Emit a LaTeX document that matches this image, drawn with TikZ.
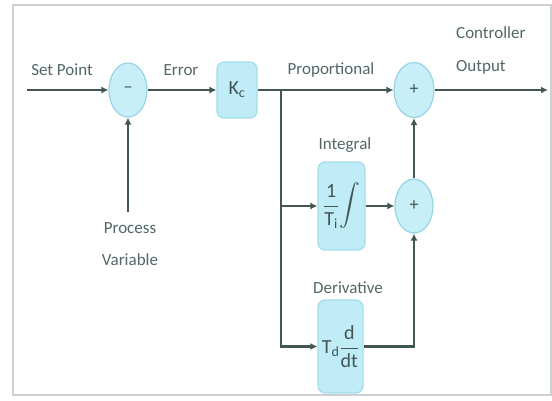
\documentclass[tikz,border=0pt]{standalone}
\usepackage{amsmath}
\usepackage{fontspec}
\setmainfont{Carlito}
\usetikzlibrary{arrows.meta,shapes.geometric}
\definecolor{ln}{RGB}{66,86,84}
\definecolor{tx}{RGB}{82,102,102}
\definecolor{cfill}{RGB}{200,239,247}
\definecolor{cedge}{RGB}{150,212,228}
\definecolor{bfill}{RGB}{192,236,247}
\definecolor{bedge}{RGB}{165,220,234}
\definecolor{frame}{RGB}{205,208,208}
\tikzset{
  sumnode/.style={ellipse, draw=cedge, fill=cfill, line width=1.2pt, minimum width=38pt, minimum height=54pt, inner sep=0pt, text=ln, font=\fontsize{18}{18}\selectfont},
  blockbox/.style={rectangle, rounded corners=7pt, draw=bedge, fill=bfill, line width=1.2pt, inner sep=0pt, text=ln, font=\fontsize{20}{24}\selectfont},
  wire/.style={draw=ln, line width=2.8pt},
  arr/.style={wire, -{Latex[length=7pt,width=7pt]}},
  lbl/.style={text=tx, font=\fontsize{17}{20}\selectfont, inner sep=0pt},
}
\begin{document}
\begin{tikzpicture}[x=1pt,y=-1pt]
\useasboundingbox (0,0) rectangle (552,400);
\draw[frame, line width=2.5pt] (13,5) rectangle (551,395);

% nodes
\coordinate (sp) at (27,90);
\node[sumnode] (minus) at (128,90) {--};
\coordinate (pv) at (128,212);
\node[blockbox, minimum width=40pt, minimum height=56pt] (kc) at (237,90) {K\textsubscript{c}};
\coordinate (br) at (281,90);
\node[sumnode, minimum width=40pt, minimum height=55pt] (plus1) at (414,90) {+};
\coordinate (out) at (548,90);
\node[blockbox, minimum width=47pt, minimum height=88pt] (integ) at (341.5,206) {$\displaystyle\frac{\text{1}}{\text{T}_{\text{i}}}\!\int$};
\node[sumnode] (plus2) at (414,206) {+};
\node[blockbox, minimum width=45pt, minimum height=93pt] (der) at (340.5,346.5) {$\displaystyle \text{T}_{\text{d}}\frac{\text{d}}{\text{dt}}$};

% connectors
\draw[arr] (sp) -- (minus);
\draw[arr] (pv) -- (minus);
\draw[arr] (minus) -- (kc);
\draw[arr] (kc) -- (plus1);
\draw[arr] (plus1) -- (out);
\draw[arr] (br) |- (der);
\draw[arr] (br |- integ) -- (integ);
\draw[arr] (integ) -- (plus2);
\draw[arr] (der) -| (plus2);
\draw[arr] (plus2) -- (plus1);

% labels
\node[lbl] (lsp) at (62,70) {Set Point};
\node[lbl] (lerr) at (181,70) {Error};
\node[lbl] (lprop) at (331,70) {Proportional};
\node[lbl, anchor=west] (lco1) at (456,33) {Controller};
\node[lbl, anchor=west] (lco2) at (456,67) {Output};
\node[lbl] (lint) at (345,145) {Integral};
\node[lbl] (lder) at (348,288) {Derivative};
\node[lbl] (lpv1) at (130,228) {Process};
\node[lbl] (lpv2) at (130,260) {Variable};
\end{tikzpicture}
\end{document}
